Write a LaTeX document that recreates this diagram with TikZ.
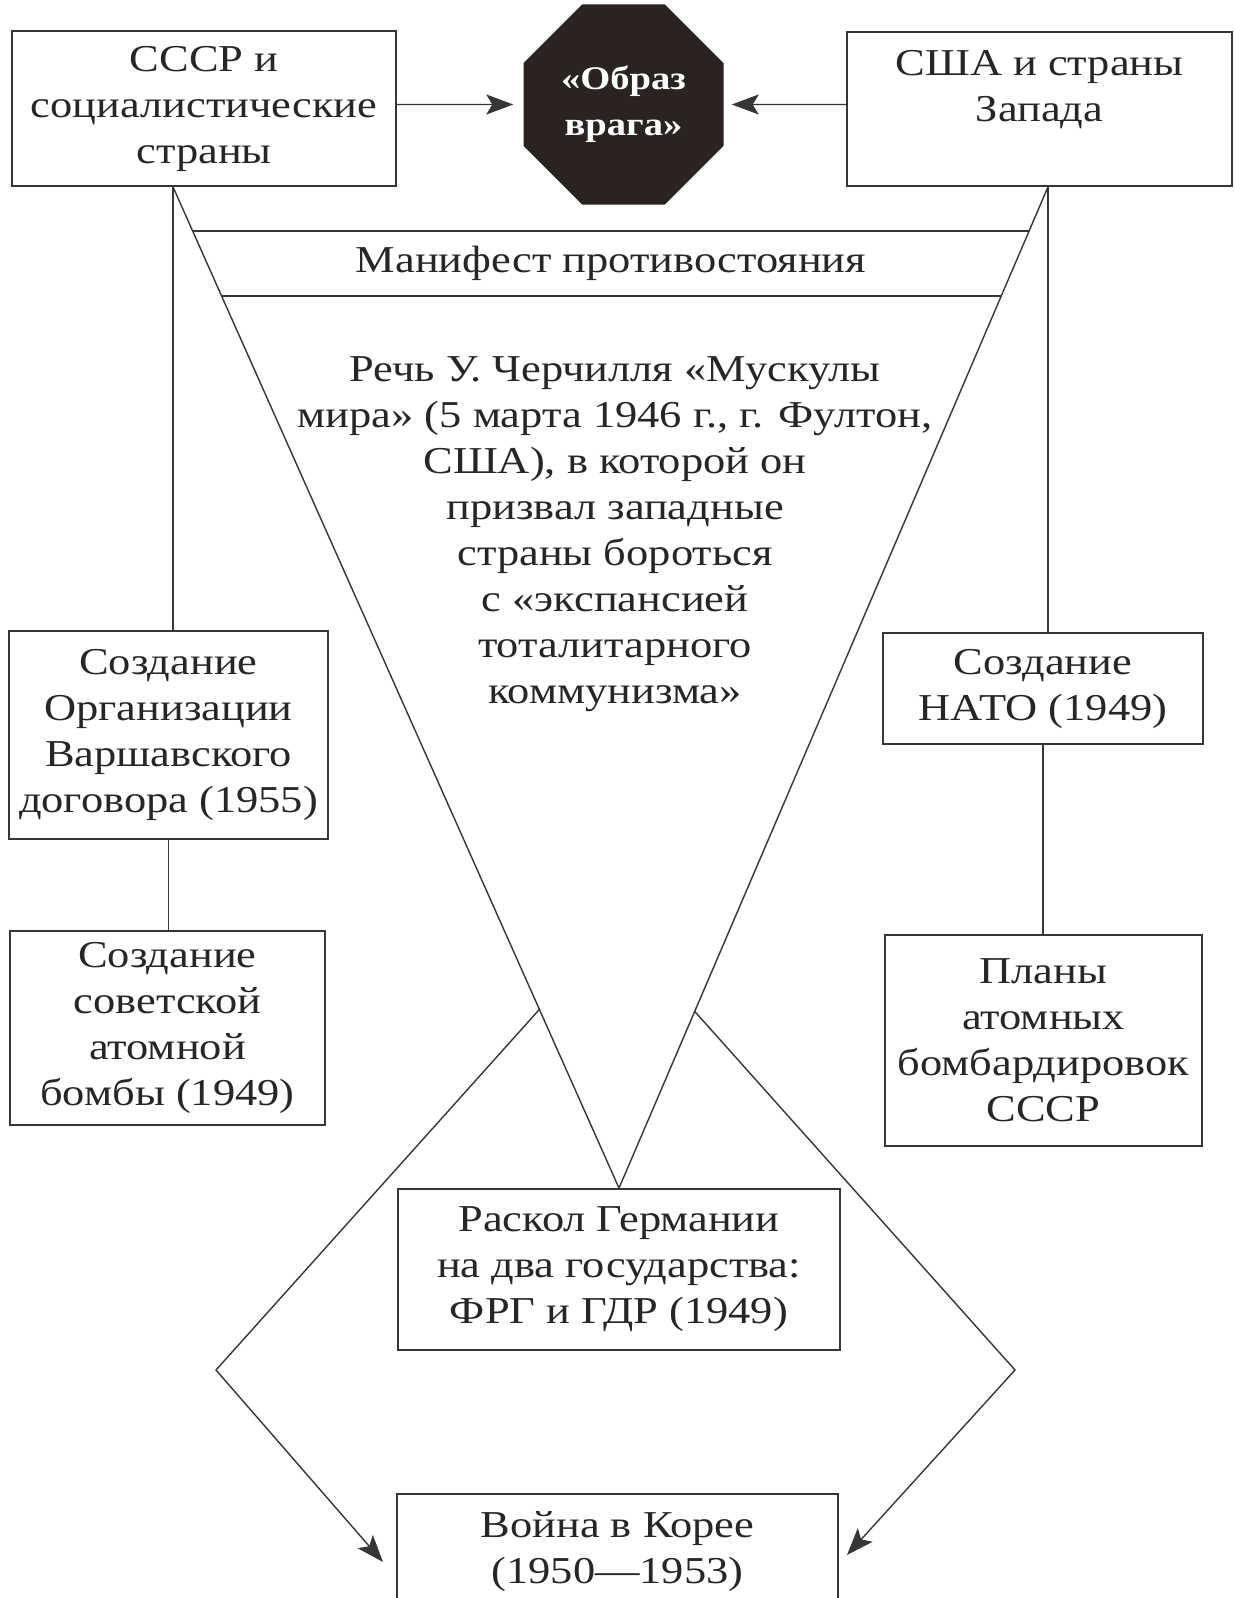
\documentclass[tikz,border=0pt]{standalone}
\usepackage{fontspec}
\setmainfont[FakeStretch=1.17]{Liberation Serif}
\usetikzlibrary{shapes.geometric,arrows.meta,calc}
\definecolor{linec}{HTML}{363636}
\definecolor{textc}{HTML}{262626}
\definecolor{octc}{HTML}{2A2321}
\begin{document}
\begin{tikzpicture}[x=1pt,y=-1pt,
  box/.style={draw=linec,line width=1.8pt,align=center,inner sep=0pt,text=textc,font=\fontsize{38}{46}\selectfont},
  plain/.style={align=center,inner sep=0pt,text=textc,font=\fontsize{38}{46}\selectfont},
  conn/.style={draw=linec,line width=1.4pt},
  band/.style={draw=linec,line width=1.8pt},
  arr/.style={conn,-{Stealth[length=27pt,width=20pt,inset=6pt]}},
  ]
\useasboundingbox (0,0) rectangle (1234,1598);
\fill[white] (0,0) rectangle (1234,1598);
\clip (0,0) rectangle (1234,1598);

\node[box,minimum width=384pt,minimum height=155pt] (ussr) at (204,108.5)
  {СССР и\\социалистические\\страны};
\node[box,minimum width=385pt,minimum height=154pt] (west) at (1039.5,109)
  {США и страны\\Запада\\\mbox{}};
\node[regular polygon,regular polygon sides=8,minimum size=216.5pt,inner sep=0pt,
  fill=octc,text=white,align=center,font=\bfseries\fontsize{33}{46}\selectfont]
  (enemy) at (623.5,104.5) {«Образ\\врага»};

\node[box,minimum width=319pt,minimum height=208pt] (warsaw) at (168.5,735)
  {Создание\\Организации\\Варшавского\\договора (1955)};
\node[box,minimum width=315pt,minimum height=194pt] (atom) at (167.5,1028)
  {Создание\\советской\\атомной\\бомбы (1949)};
\node[box,minimum width=320pt,minimum height=111pt] (nato) at (1043,688.5)
  {Создание\\НАТО (1949)};
\node[box,minimum width=317pt,minimum height=211pt] (plans) at (1043.5,1040.5)
  {Планы\\атомных\\бомбардировок\\СССР};
\node[box,minimum width=442pt,minimum height=161pt] (germany) at (619,1269.5)
  {Раскол Германии\\на два государства:\\ФРГ и ГДР (1949)};
\node[box,minimum width=441pt,anchor=north,inner ysep=18pt] (korea) at (617.5,1493)
  {Война в Корее\\(1950—1953)};

\node[plain] (manifest) at (611,263) {Манифест противостояния};
\node[plain] (speech) at (615,534)
  {Речь У. Черчилля «Мускулы\\мира» (5 марта 1946 г., г. Фултон,\\США), в которой он\\призвал западные\\страны бороться\\с «экспансией\\тоталитарного\\коммунизма»};

\coordinate (ltop) at ($(ussr.south)+(-31,0)$);
\coordinate (rtop) at ($(west.south)+(8.5,0)$);
\coordinate (hl) at (216,1370);
\coordinate (hr) at (1015,1370);
\coordinate (tl) at (383,1562);
\coordinate (tr) at (847,1555);

\draw[arr,shorten >=10pt] (ussr.east |- enemy) -- (enemy);
\draw[arr,shorten >=8pt] (west.west |- enemy) -- (enemy);

\draw[conn] (ltop) -- (ltop |- warsaw.north);
\draw[conn] (warsaw.south) -- (warsaw.south |- atom.north);
\draw[conn] (rtop) -- (rtop |- nato.north);
\draw[conn] (nato.south) -- (nato.south |- plans.north);

\draw[conn] (ltop) -- (germany.north) -- (rtop);
\draw[band] ($(ltop)!0.0439!(germany.north)$) -- ($(rtop)!0.0439!(germany.north)$);
\draw[band] ($(ltop)!0.1087!(germany.north)$) -- ($(rtop)!0.1087!(germany.north)$);

\draw[arr] ($(ltop)!0.8215!(germany.north)$) -- (hl) -- (tl);
\draw[arr] ($(rtop)!0.8235!(germany.north)$) -- (hr) -- (tr);
\end{tikzpicture}
\end{document}
